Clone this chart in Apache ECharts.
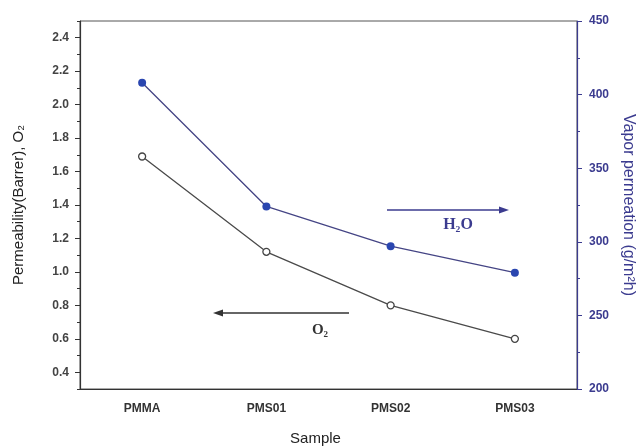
<!DOCTYPE html>
<html><head><meta charset="utf-8">
<script src="https://cdn.jsdelivr.net/npm/echarts@6/dist/echarts.min.js"></script>
<style>html,body{margin:0;padding:0;background:#fff}#c{width:643px;height:446px}</style>
</head><body><div id="c"></div>
<script>
const categories = ['PMMA', 'PMS01', 'PMS02', 'PMS03'];
const o2Permeability = [1.69, 1.12, 0.80, 0.60];
const h2oVapor = [408, 324, 297, 279];
const leftTicks = [0.4, 0.6, 0.8, 1.0, 1.2, 1.4, 1.6, 1.8, 2.0, 2.2, 2.4];
const rightTicks = [200, 250, 300, 350, 400, 450];

const blue = '#3b3b8f';
const dark = '#333';
const chart = echarts.init(document.getElementById('c'));
chart.setOption({
  animation: false,
  backgroundColor: '#fff',
  grid: { left: 80, right: 66, top: 21, bottom: 57, show: true, borderColor: '#555', borderWidth: 1, containLabel: false, outerBoundsMode: 'none' },
  xAxis: [
    {
      type: 'category', data: categories, boundaryGap: true,
      axisLine: { lineStyle: { color: dark, width: 1.2 } },
      axisTick: { alignWithLabel: true, length: 5, lineStyle: { color: dark } },
      axisLabel: { margin: 14, color: '#333', fontWeight: 'bold', fontSize: 12, fontFamily: 'Liberation Sans' },
      name: 'Sample', nameLocation: 'middle', nameGap: 42,
      nameTextStyle: { fontSize: 15, color: '#222', fontFamily: 'Liberation Sans', padding: [0, 26, 0, 0] }
    },
    {
      type: 'category', data: categories, boundaryGap: true, position: 'bottom',
      axisLine: { show: false },
      axisTick: { length: 3, lineStyle: { color: dark } },
      axisLabel: { show: false }
    }
  ],
  yAxis: [
    {
      type: 'value', position: 'left', min: 0.3, max: 2.5,
      axisLine: { show: true, lineStyle: { color: dark, width: 1.2 } },
      axisTick: { show: true, customValues: leftTicks, length: 5, lineStyle: { color: dark } },
      axisLabel: { customValues: leftTicks, formatter: v => v.toFixed(1), margin: 11, color: '#444', fontWeight: 'bold', fontSize: 12, fontFamily: 'Liberation Sans' },
      splitLine: { show: false },
      name: 'Permeability(Barrer), O\u2082', nameLocation: 'middle', nameGap: 54, nameRotate: 90,
      nameTextStyle: { fontSize: 15, color: '#222', fontFamily: 'Liberation Sans' }
    },
    {
      type: 'value', position: 'right', min: rightTicks[0], max: rightTicks[rightTicks.length - 1], interval: 50,
      axisLine: { show: true, lineStyle: { color: blue, width: 1.2 } },
      axisTick: { show: true, length: 5, lineStyle: { color: blue } },
      minorTick: { show: true, splitNumber: 2, length: 3, lineStyle: { color: blue } },
      axisLabel: { margin: 12, color: blue, fontWeight: 'bold', fontSize: 12, fontFamily: 'Liberation Sans' },
      splitLine: { show: false },
      name: 'Vapor permeation (g/m\u00b2h)', nameLocation: 'middle', nameGap: 41, nameRotate: -90,
      nameTextStyle: { fontSize: 16, color: blue, fontFamily: 'Liberation Sans' }
    },
    {
      type: 'value', position: 'left', min: 0.3, max: 2.5, interval: 0.1,
      axisLine: { show: false },
      axisTick: { show: true, length: 3, lineStyle: { color: dark } },
      axisLabel: { show: false },
      splitLine: { show: false }
    }
  ],
  series: [
    {
      type: 'line', name: 'O2', xAxisIndex: 0, yAxisIndex: 0, data: o2Permeability,
      symbol: 'circle', symbolSize: 7,
      lineStyle: { color: '#4a4a4a', width: 1.3 },
      itemStyle: { color: '#fff', borderColor: '#444', borderWidth: 1.3 }
    },
    {
      type: 'line', name: 'H2O', xAxisIndex: 0, yAxisIndex: 1, data: h2oVapor,
      symbol: 'circle', symbolSize: 8,
      lineStyle: { color: '#454585', width: 1.3 },
      itemStyle: { color: '#2a46b0', borderColor: '#2a46b0', borderWidth: 0 }
    }
  ],
  graphic: [
    { type: 'line', shape: { x1: 387, y1: 210, x2: 502, y2: 210 }, style: { stroke: blue, lineWidth: 1.3 } },
    { type: 'polygon', shape: { points: [[509, 210], [499, 206.5], [499, 213.5]] }, style: { fill: blue } },
    { type: 'text', x: 458, y: 225, style: { text: 'H\u2082O', fill: blue, font: 'bold 16px "Liberation Serif"', align: 'center', verticalAlign: 'middle' } },
    { type: 'line', shape: { x1: 220, y1: 313, x2: 349, y2: 313 }, style: { stroke: '#333', lineWidth: 1.3 } },
    { type: 'polygon', shape: { points: [[213, 313], [223, 309.5], [223, 316.5]] }, style: { fill: '#333' } },
    { type: 'text', x: 320, y: 330, style: { text: 'O\u2082', fill: '#333', font: 'bold 15px "Liberation Serif"', align: 'center', verticalAlign: 'middle' } }
  ]
});
</script>
</body></html>
